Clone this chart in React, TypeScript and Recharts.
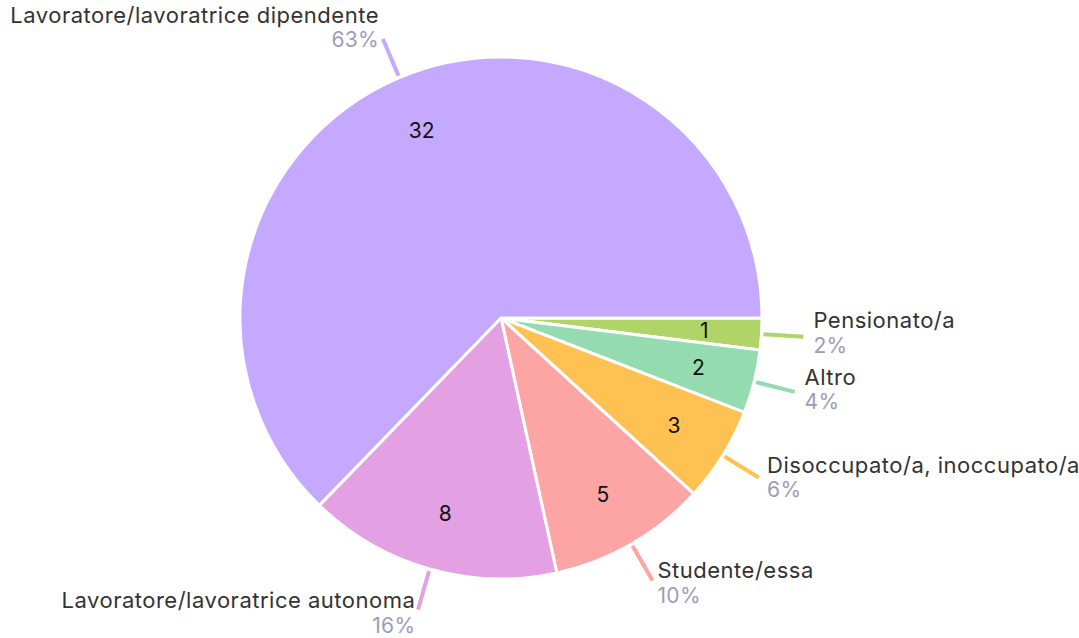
import React from 'react';
import { PieChart, Pie, Cell } from 'recharts';

const categories = [
  'Pensionato/a',
  'Altro',
  'Disoccupato/a, inoccupato/a',
  'Studente/essa',
  'Lavoratore/lavoratrice autonoma',
  'Lavoratore/lavoratrice dipendente',
];
const values = [1, 2, 3, 5, 8, 32];
const colors = ['#b0d467', '#94dbb0', '#ffc152', '#fda4a4', '#e3a0e3', '#c5a8ff'];

const data = categories.map((name, i) => ({ name, value: values[i] }));
const total = values.reduce((a, b) => a + b, 0);
const RADIAN = Math.PI / 180;
const FONT = 'Inter, "Noto Sans", sans-serif';

const renderLabel = (props: any) => {
  const { cx, cy, midAngle, outerRadius, payload, value, index } = props;
  const cos = Math.cos(-midAngle * RADIAN);
  const sin = Math.sin(-midAngle * RADIAN);
  const sx = cx + (outerRadius + 2) * cos;
  const sy = cy + (outerRadius + 2) * sin;
  const ex = cx + (outerRadius + 42) * cos;
  const ey = cy + (outerRadius + 42) * sin;
  const tx = ex + 10 * cos;
  const nameY = ey - 17 + 8 * sin;
  const pctY = nameY + 25;
  const anchor = cos >= 0 ? 'start' : 'end';
  const ix = cx + outerRadius * 0.78 * cos;
  const iy = cy + outerRadius * 0.78 * sin;
  const pct = Math.round((value / total) * 100);
  return (
    <g key={`lbl-${index}`}>
      <line x1={sx} y1={sy} x2={ex} y2={ey} stroke={colors[index]} strokeWidth={4} />
      <text x={tx} y={nameY} textAnchor={anchor} dominantBaseline="central" fill="#333333" fontSize={22} letterSpacing={0.5} fontFamily={FONT}>
        {payload.name}
      </text>
      <text x={tx} y={pctY} textAnchor={anchor} dominantBaseline="central" fill="#9d9cb8" fontSize={21} letterSpacing={0.3} fontFamily={FONT}>
        {pct}%
      </text>
      <text x={ix} y={iy} textAnchor="middle" dominantBaseline="central" fill="#111111" fontSize={21} fontFamily={FONT}>
        {value}
      </text>
    </g>
  );
};

export default function App() {
  return (
    <div style={{ position: 'absolute', left: 0, top: 0, width: 1079, height: 638, background: '#ffffff' }}>
      <PieChart width={1079} height={638} margin={{ top: 0, right: 0, bottom: 0, left: 0 }}>
        <Pie
          data={data}
          dataKey="value"
          nameKey="name"
          cx={501}
          cy={318}
          outerRadius={261}
          startAngle={0}
          endAngle={-360}
          stroke="#ffffff"
          strokeWidth={3}
          label={renderLabel}
          labelLine={false}
          isAnimationActive={false}
        >
          {data.map((d, i) => (
            <Cell key={d.name} fill={colors[i]} />
          ))}
        </Pie>
      </PieChart>
    </div>
  );
}
